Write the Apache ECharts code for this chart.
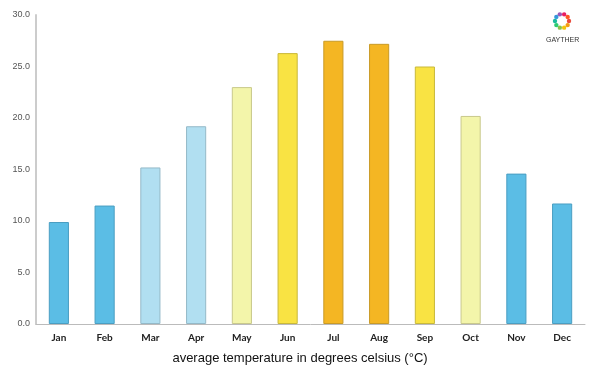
<!DOCTYPE html>
<html>
<head>
<meta charset="utf-8">
<script src="https://cdn.jsdelivr.net/npm/echarts@6/dist/echarts.min.js"></script>
<style>
  html, body { margin: 0; padding: 0; background: #fff; }
  #chart { width: 600px; height: 375px; }
</style>
</head>
<body>
<div id="chart"></div>
<script>
const months = ["Jan","Feb","Mar","Apr","May","Jun","Jul","Aug","Sep","Oct","Nov","Dec"];
const avgTemp = [9.9, 11.5, 15.2, 19.2, 23.0, 26.3, 27.5, 27.2, 25.0, 20.2, 14.6, 11.7];
const barColors = ["#5bbde5","#5bbde5","#b1dff1","#b1dff1","#f3f5aa","#f9e343","#f4b623","#f4b623","#f9e343","#f3f5aa","#5bbde5","#5bbde5"];
const borderColors = ["#4a9ec2","#4a9ec2","#94b9c8","#94b9c8","#c9c98c","#c9b93a","#c99a26","#c99a26","#c9b93a","#c9c98c","#4a9ec2","#4a9ec2"];
const logoColors = ["#e94b3c","#f39c12","#f1c40f","#8bc34a","#2ecc71","#1abc9c","#3498db","#9b59b6","#e91e63","#ff5722"];

const chart = echarts.init(document.getElementById('chart'));

// little ring of dots for the logo
let logo = logoColors.map((c, i) => {
   let a = i / logoColors.length * Math.PI * 2;
   return {
      type: 'circle',
      shape: { cx: 562 + Math.cos(a) * 7, cy: 21 + Math.sin(a) * 7, r: 2.2 },
      style: { fill: c }
   };
});
logo.push({
   type: 'text',
   left: 546, top: 37,
   style: { text: 'GAYTHER', font: '7px "Liberation Sans", Arial', fill: '#333' }
});

const option = {
   animation: false,
   grid: { left: 36, right: 15, top: 15, bottom: 51 },
   title: {
      text: "average temperature in degrees celsius (°C)",
      left: 'center',
      top: 347,
      textStyle: { fontSize: 13, fontWeight: 'normal', color: '#111', fontFamily: '"Liberation Sans", Arial' }
   },
   xAxis: {
      type: 'category',
      data: months,
      axisLine: { lineStyle: { color: '#bbb', width: 1 } },
      axisTick: { show: false },
      axisLabel: { color: '#222', fontSize: 10, fontWeight: 'bold', fontFamily: 'Lato', margin: 9 }
   },
   yAxis: {
      type: 'value',
      min: 0, max: 30, interval: 5,
      axisLine: { show: true, lineStyle: { color: '#ccc', width: 2 } },
      axisTick: { show: false },
      splitLine: { show: false },
      axisLabel: {
         color: '#555', fontSize: 9, fontFamily: '"Liberation Sans", Arial', margin: 6,
         formatter: v => v.toFixed(1)
      }
   },
   series: [{
      type: 'bar',
      barWidth: '44%',
      data: avgTemp.map((v, i) => ({
         value: v,
         itemStyle: { color: barColors[i], borderColor: borderColors[i], borderWidth: 1 }
      }))
   }],
   graphic: logo
};
chart.setOption(option);
</script>
</body>
</html>
